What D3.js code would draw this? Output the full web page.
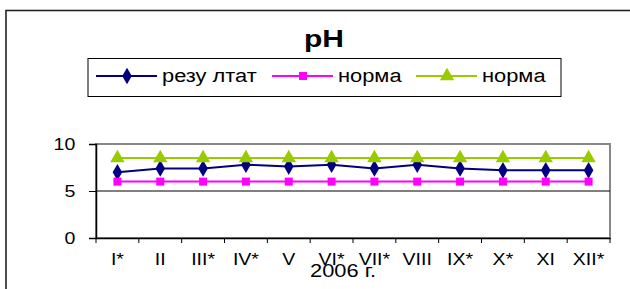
<!DOCTYPE html>
<html>
<head>
<meta charset="utf-8">
<script src="https://cdn.jsdelivr.net/npm/d3@7"></script>
<style>
  body { margin: 0; background: #fff; }
  svg text { font-family: Arial, "Liberation Sans", sans-serif; }
</style>
</head>
<body>
<div id="chart"></div>
<script>
const months = ['I*', 'II', 'III*', 'IV*', 'V', 'VI*', 'VII*', 'VIII', 'IX*', 'X*', 'XI', 'XII*'];
const result = [7.0, 7.4, 7.4, 7.8, 7.6, 7.8, 7.4, 7.8, 7.4, 7.2, 7.2, 7.2];
const normLow = [6, 6, 6, 6, 6, 6, 6, 6, 6, 6, 6, 6];
const normHigh = [8.5, 8.5, 8.5, 8.5, 8.5, 8.5, 8.5, 8.5, 8.5, 8.5, 8.5, 8.5];
const yTicks = [0, 5, 10];
const seriesNames = ['резу лтат', 'норма', 'норма'];

const width = 630, height = 289;
const plot = {left: 96, right: 610, top: 144, bottom: 238};
const stretch = 1.15; // the original picture's text is a bit wider than plain Arial

const svg = d3.select('#chart').append('svg')
    .attr('width', width)
    .attr('height', height);

// outer chart frame
svg.append('rect')
    .attr('x', 6).attr('y', 10.5)
    .attr('width', 650).attr('height', 300)
    .attr('fill', 'none')
    .attr('stroke', '#222')
    .attr('stroke-width', 1.6);

svg.append('text')
    .attr('transform', 'translate(324,47) scale(1.25,1)')
    .attr('text-anchor', 'middle')
    .attr('font-size', 24)
    .attr('font-weight', 'bold')
    .text('pH');

const x = d3.scaleBand().domain(months).range([plot.left, plot.right]);
const y = d3.scaleLinear().domain([0, 10]).range([plot.bottom, plot.top]);

// plot area border (grey)
svg.append('rect')
    .attr('x', plot.left).attr('y', plot.top)
    .attr('width', plot.right - plot.left).attr('height', plot.bottom - plot.top)
    .attr('fill', 'none')
    .attr('stroke', '#888')
    .attr('stroke-width', 2);

// gridline at 5
svg.append('line')
    .attr('x1', plot.left).attr('x2', plot.right)
    .attr('y1', y(5)).attr('y2', y(5))
    .attr('stroke', '#000').attr('stroke-width', 1);

const yAxis = svg.append('g')
    .attr('transform', `translate(${plot.left},0)`)
    .call(d3.axisLeft(y).tickValues(yTicks).tickSize(7).tickPadding(11));
yAxis.select('.domain').attr('stroke', '#000').attr('stroke-width', 1.5);
yAxis.selectAll('text').attr('font-size', 17).attr('fill', '#000')
    .attr('font-family', 'Arial, "Liberation Sans", sans-serif')
    .attr('transform', `scale(${stretch},1)`);

const xAxis = svg.append('g')
    .attr('transform', `translate(0,${plot.bottom})`)
    .call(d3.axisBottom(x).tickSize(0).tickPadding(15));
xAxis.select('.domain').attr('stroke', '#000').attr('stroke-width', 1.5);
xAxis.selectAll('text').attr('font-size', 17).attr('fill', '#000')
    .attr('font-family', 'Arial, "Liberation Sans", sans-serif')
    .attr('transform', `scale(${stretch},1)`);

// tick marks on category boundaries
const bounds = months.map(m => x(m)).concat([plot.right]);
svg.append('g').selectAll('line')
    .data(bounds)
    .join('line')
    .attr('x1', d => d).attr('x2', d => d)
    .attr('y1', plot.bottom).attr('y2', plot.bottom + 5)
    .attr('stroke', '#000').attr('stroke-width', 1);

svg.append('text')
    .attr('transform', `translate(343,277) scale(${stretch},1)`)
    .attr('text-anchor', 'middle')
    .attr('font-size', 19)
    .text('2006 г.');

const series = [
    {name: seriesNames[0], values: result, color: '#000080', marker: d3.symbolDiamond, size: 80},
    {name: seriesNames[1], values: normLow, color: '#FF00FF', marker: d3.symbolSquare, size: 64},
    {name: seriesNames[2], values: normHigh, color: '#99CC00', marker: d3.symbolTriangle, size: 90}
];

const line = d3.line()
    .x((d, i) => x(months[i]) + x.bandwidth() / 2)
    .y(d => y(d));

series.forEach(s => {
    svg.append('path')
        .datum(s.values)
        .attr('d', line)
        .attr('fill', 'none')
        .attr('stroke', s.color)
        .attr('stroke-width', 2);
    svg.append('g').selectAll('path')
        .data(s.values)
        .join('path')
        .attr('transform', (d, i) => `translate(${x(months[i]) + x.bandwidth() / 2},${y(d)})`)
        .attr('d', d3.symbol().type(s.marker).size(s.size))
        .attr('fill', s.color);
});

// legend
svg.append('rect')
    .attr('x', 88).attr('y', 58.5)
    .attr('width', 473).attr('height', 38)
    .attr('fill', 'none')
    .attr('stroke', '#000').attr('stroke-width', 1);

const legendX = [96, 272, 416];
const legend = svg.append('g').selectAll('g')
    .data(series)
    .join('g')
    .attr('transform', (d, i) => `translate(${legendX[i]},76)`);
legend.append('line')
    .attr('x1', 0).attr('x2', 61)
    .attr('stroke', d => d.color).attr('stroke-width', 2);
legend.append('path')
    .attr('transform', 'translate(31,0)')
    .attr('d', d => d3.symbol().type(d.marker).size(d.size)())
    .attr('fill', d => d.color);
legend.append('text')
    .attr('transform', `translate(66,6) scale(${stretch},1)`)
    .attr('font-size', 19)
    .text(d => d.name);
</script>
</body>
</html>
